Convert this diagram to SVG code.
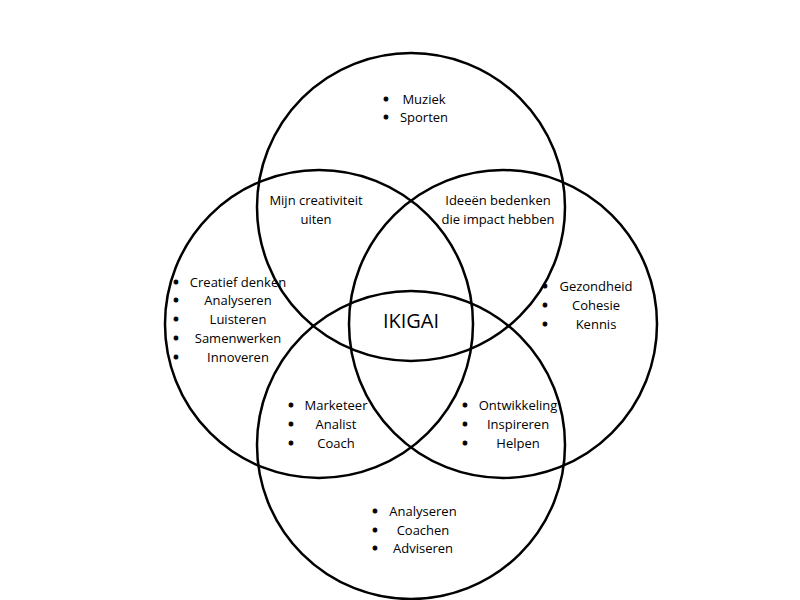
<svg xmlns="http://www.w3.org/2000/svg" width="800" height="600" viewBox="0 0 800 600">
<style>
.c{fill:none;stroke:#000;stroke-width:2.5}
text{font-family:"Open Sans","Liberation Sans",sans-serif;font-size:13px;fill:#000;text-anchor:middle;dominant-baseline:central}
.b{font-size:13px;font-weight:bold;stroke:#000;stroke-width:1}
</style>
<rect width="800" height="600" fill="#fff"/>
<g id="circles">
<circle id="top" class="c" cx="411" cy="207" r="154"/>
<circle id="left" class="c" cx="319" cy="324" r="154"/>
<circle id="right" class="c" cx="503" cy="324" r="154"/>
<circle id="bottom" class="c" cx="411" cy="445" r="154"/>
</g>
<g id="top-list">
<text class="b" x="386" y="99">•</text><text x="424" y="99">Muziek</text>
<text class="b" x="386" y="117">•</text><text x="424" y="117">Sporten</text>
</g>
<g id="top-left"><text x="316" y="200">Mijn creativiteit</text><text x="316" y="219">uiten</text></g>
<g id="top-right"><text x="498" y="200">Ideeën bedenken</text><text x="498" y="219">die impact hebben</text></g>
<g id="left-list">
<text class="b" x="176" y="282">•</text><text x="238" y="282">Creatief denken</text>
<text class="b" x="176" y="300">•</text><text x="238" y="300">Analyseren</text>
<text class="b" x="176" y="319">•</text><text x="238" y="319">Luisteren</text>
<text class="b" x="176" y="338">•</text><text x="238" y="338">Samenwerken</text>
<text class="b" x="176" y="357">•</text><text x="238" y="357">Innoveren</text>
</g>
<g id="right-list">
<text class="b" x="545" y="286">•</text><text x="596" y="286">Gezondheid</text>
<text class="b" x="545" y="305">•</text><text x="596" y="305">Cohesie</text>
<text class="b" x="545" y="324">•</text><text x="596" y="324">Kennis</text>
</g>
<g id="center"><text x="411" y="320" style="font-size:20px">IKIGAI</text></g>
<g id="bottom-left">
<text class="b" x="291" y="405">•</text><text x="336" y="405">Marketeer</text>
<text class="b" x="291" y="424">•</text><text x="336" y="424">Analist</text>
<text class="b" x="291" y="443">•</text><text x="336" y="443">Coach</text>
</g>
<g id="bottom-right">
<text class="b" x="465" y="405">•</text><text x="518" y="405">Ontwikkeling</text>
<text class="b" x="465" y="424">•</text><text x="518" y="424">Inspireren</text>
<text class="b" x="465" y="443">•</text><text x="518" y="443">Helpen</text>
</g>
<g id="bottom-list">
<text class="b" x="375" y="511">•</text><text x="423" y="511">Analyseren</text>
<text class="b" x="375" y="530">•</text><text x="423" y="530">Coachen</text>
<text class="b" x="375" y="548">•</text><text x="423" y="548">Adviseren</text>
</g>
</svg>
